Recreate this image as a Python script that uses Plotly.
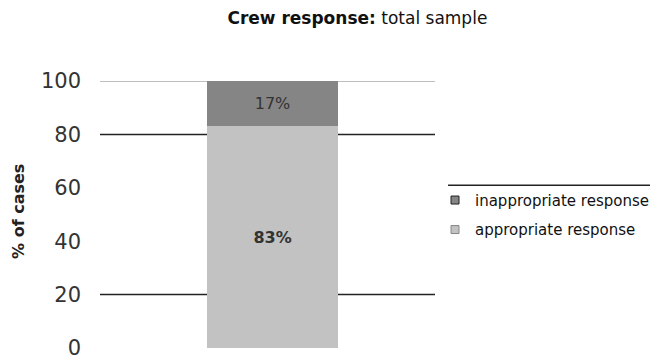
import plotly.graph_objects as go

# Data
categories = ['total sample']
appropriate = [83]
inappropriate = [17]
y_ticks = [0, 20, 40, 60, 80, 100]
grid_lines = [20, 80]
top_line = 100

FONT = 'DejaVu Sans'
LIGHT = '#c2c2c2'
DARK = '#858585'

fig = go.Figure()

fig.add_trace(go.Bar(
    x=categories,
    y=appropriate,
    name='appropriate response',
    marker=dict(color=LIGHT, line=dict(width=0)),
    text=[f'<b>{v}%</b>' for v in appropriate],
    textposition='inside',
    insidetextanchor='middle',
    textfont=dict(size=16, color='#333333', family=FONT),
    showlegend=False,
))

fig.add_trace(go.Bar(
    x=categories,
    y=inappropriate,
    name='inappropriate response',
    marker=dict(color=DARK, line=dict(width=0)),
    text=[f'{v}%' for v in inappropriate],
    textposition='inside',
    insidetextanchor='middle',
    textfont=dict(size=16, color='#333333', family=FONT),
    showlegend=False,
))

# legend entries with small square swatches
for name, color, outline, group in [
    ('inappropriate response', DARK, '#222222', 'a'),
    ('appropriate response', LIGHT, '#888888', 'b'),
]:
    fig.add_trace(go.Scatter(
        x=[None], y=[None], mode='markers', name=name, legendgroup=group,
        marker=dict(symbol='square', size=8, color=color, line=dict(color=outline, width=1)),
    ))

shapes = []
for g in grid_lines:
    shapes.append(dict(type='line', xref='paper', x0=0, x1=1, yref='y', y0=g, y1=g,
                       line=dict(color='#222222', width=1.5), layer='below'))
shapes.append(dict(type='line', xref='paper', x0=0, x1=1, yref='y', y0=top_line, y1=top_line,
                   line=dict(color='#aaaaaa', width=1.5), layer='below'))
# line above the legend
shapes.append(dict(type='line', xref='paper', x0=1.039, x1=1.7, yref='paper', y0=0.61, y1=0.61,
                   line=dict(color='#222222', width=1.5)))

fig.update_layout(
    width=658,
    height=362,
    barmode='stack',
    bargap=0.61,
    plot_bgcolor='white',
    paper_bgcolor='white',
    font=dict(family=FONT, color='#333333'),
    title=dict(
        text='<b>Crew response:</b> total sample',
        x=0.531, xanchor='center', y=0.972, yanchor='middle',
        font=dict(size=17, color='#111111'),
    ),
    margin=dict(l=92, r=231, t=73, b=22, autoexpand=False),
    xaxis=dict(
        showticklabels=False, showgrid=False, zeroline=False, showline=False,
        range=[-0.515, 0.485],
    ),
    yaxis=dict(
        range=[0, 100],
        tickvals=y_ticks,
        ticktext=[str(t) for t in y_ticks],
        showgrid=False, zeroline=False, showline=False,
        tickfont=dict(size=21, color='#333333'),
        ticks='', ticklabelstandoff=18,
        automargin=False,
    ),
    annotations=[dict(
        text='<b>% of cases</b>', textangle=-90, showarrow=False,
        xref='paper', yref='paper', x=-0.245, y=0.513,
        xanchor='center', yanchor='middle',
        font=dict(size=16, color='#222222'),
    )],
    legend=dict(
        x=1.0, y=0.615, xanchor='left', yanchor='top',
        traceorder='grouped',
        font=dict(size=15, color='#111111'),
        itemwidth=30,
        tracegroupgap=7,
        bgcolor='rgba(0,0,0,0)',
    ),
    shapes=shapes,
)

fig.write_html('out.html')
